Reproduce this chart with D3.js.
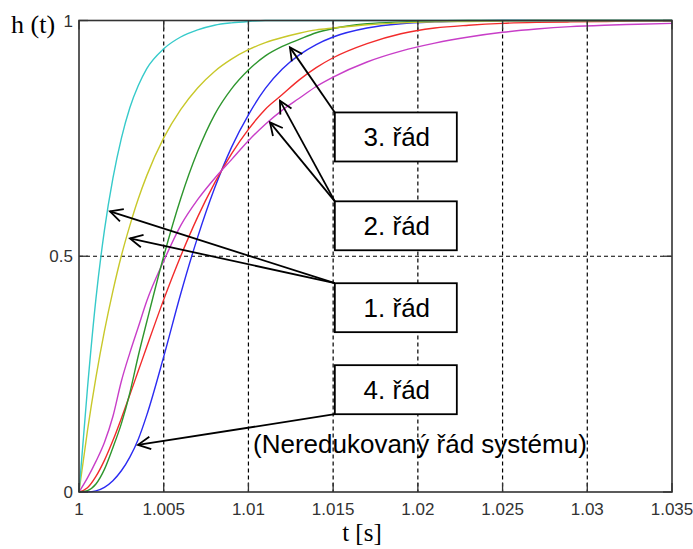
<!DOCTYPE html>
<html>
<head>
<meta charset="utf-8">
<script src="https://cdn.jsdelivr.net/npm/d3@7"></script>
<style>
  body { margin: 0; background: #fff; }
  svg { display: block; }
  .tick-label { font-family: "Liberation Sans", Arial, sans-serif; font-size: 17px; fill: #333; }
  .box-label { font-family: "Liberation Sans", Arial, sans-serif; font-size: 26px; fill: #000; }
</style>
</head>
<body>
<svg id="chart" width="693" height="549"></svg>
<script>
// sample times [s] and step responses
const time = [1, 1.0005, 1.001, 1.0015, 1.002, 1.0025, 1.003, 1.0035, 1.004, 1.005,
  1.006, 1.007, 1.008, 1.009, 1.010, 1.011, 1.012, 1.013, 1.014, 1.015,
  1.017, 1.019, 1.021, 1.023, 1.025, 1.027, 1.029, 1.031, 1.033, 1.035];

const cyanOrder1 = [0, 0.22, 0.41, 0.555, 0.665, 0.75, 0.815, 0.862, 0.898, 0.94,
  0.965, 0.98, 0.99, 0.995, 0.998, 1, 1, 1, 1, 1, 1, 1, 1, 1, 1, 1, 1, 1, 1, 1];
const yellowOrder1 = [0, 0.13, 0.243, 0.341, 0.426, 0.501, 0.565, 0.622, 0.671, 0.751,
  0.811, 0.857, 0.892, 0.918, 0.938, 0.953, 0.964, 0.973, 0.98, 0.984,
  0.991, 0.995, 0.997, 0.998, 0.999, 1, 1, 1, 1, 1];
const greenOrder3 = [0, 0.003, 0.017, 0.048, 0.094, 0.145, 0.21, 0.289, 0.361, 0.5,
  0.622, 0.722, 0.8, 0.855, 0.895, 0.925, 0.945, 0.96, 0.974, 0.983,
  0.993, 0.997, 0.999, 1, 1, 1, 1, 1, 1, 1];
const blueOrder4 = [0, 0.0002, 0.0025, 0.01, 0.024, 0.045, 0.074, 0.112, 0.163, 0.287,
  0.42, 0.54, 0.644, 0.731, 0.80, 0.856, 0.897, 0.927, 0.949, 0.965,
  0.984, 0.993, 0.997, 0.999, 1, 1, 1, 1, 1, 1];
const redOrder2 = [0, 0.009, 0.033, 0.067, 0.109, 0.156, 0.206, 0.257, 0.308, 0.408,
  0.50, 0.583, 0.655, 0.717, 0.769, 0.812, 0.843, 0.874, 0.9, 0.921,
  0.951, 0.972, 0.984, 0.99, 0.994, 0.996, 0.997, 0.998, 0.999, 0.999];
const magentaOrder2 = [0, 0.03, 0.065, 0.105, 0.16, 0.235, 0.295, 0.35, 0.405, 0.49,
  0.565, 0.62, 0.665, 0.705, 0.745, 0.78, 0.81, 0.835, 0.86, 0.88,
  0.912, 0.935, 0.952, 0.965, 0.975, 0.982, 0.987, 0.99, 0.992, 0.994];

const xTicks = [1, 1.005, 1.01, 1.015, 1.02, 1.025, 1.03, 1.035];
const xTickLabels = ["1", "1.005", "1.01", "1.015", "1.02", "1.025", "1.03", "1.035"];
const yTicks = [0, 0.5, 1];
const yTickLabels = ["0", "0.5", "1"];

// label boxes (data coords) and the points their arrows hit
const boxLabels = ["3. řád", "2. řád", "1. řád", "4. řád"];
const boxTop = [0.805, 0.6165, 0.4428, 0.269];
const boxBottom = [0.701, 0.5127, 0.339, 0.165];
const boxT0 = 1.0151, boxT1 = 1.0223;
const arrowFrom = [0, 1, 1, 2, 2, 3];           // box index (top-left corner, 4th: bottom-left)
const arrowTipT = [1.01245, 1.01186, 1.01127, 1.00183, 1.00301, 1.00348];
const arrowTipH = [0.943, 0.830, 0.784, 0.595, 0.538, 0.100];

const series = [
  { values: blueOrder4, color: "#2b2bf2" },
  { values: redOrder2, color: "#f22b2b" },
  { values: magentaOrder2, color: "#c83ec8" },
  { values: greenOrder3, color: "#2e962e" },
  { values: yellowOrder1, color: "#c8c82a" },
  { values: cyanOrder1, color: "#36caca" }
];

const svg = d3.select("#chart");
const plotLeft = 79, plotRight = 672, plotTop = 20.5, plotBottom = 492;

const x = d3.scaleLinear().domain([1, 1.035]).range([plotLeft, plotRight]);
const y = d3.scaleLinear().domain([0, 1]).range([plotBottom, plotTop]);

// grid
const grid = svg.append("g").attr("stroke", "#000").attr("stroke-width", 1.2)
  .attr("stroke-dasharray", "4,3");
grid.selectAll(".gx").data(xTicks.slice(1, -1)).enter().append("line")
  .attr("x1", d => x(d)).attr("x2", d => x(d))
  .attr("y1", plotTop).attr("y2", plotBottom);
grid.selectAll(".gy").data([0.5]).enter().append("line")
  .attr("x1", plotLeft).attr("x2", plotRight)
  .attr("y1", d => y(d)).attr("y2", d => y(d));

// curves
const line = d3.line()
  .x((d, i) => x(time[i]))
  .y(d => y(d))
  .curve(d3.curveMonotoneX);

svg.append("g").selectAll("path").data(series).enter().append("path")
  .attr("d", d => line(d.values))
  .attr("fill", "none")
  .attr("stroke", d => d.color)
  .attr("stroke-width", 1.4);

// frame and inner ticks
svg.append("rect")
  .attr("x", plotLeft).attr("y", plotTop)
  .attr("width", plotRight - plotLeft).attr("height", plotBottom - plotTop)
  .attr("fill", "none").attr("stroke", "#333").attr("stroke-width", 1.6);

const ticks = svg.append("g").attr("stroke", "#333").attr("stroke-width", 1.3);
xTicks.forEach(t => {
  ticks.append("line").attr("x1", x(t)).attr("x2", x(t)).attr("y1", plotBottom).attr("y2", plotBottom - 9);
  ticks.append("line").attr("x1", x(t)).attr("x2", x(t)).attr("y1", plotTop).attr("y2", plotTop + 9);
});
yTicks.forEach(v => {
  ticks.append("line").attr("x1", plotLeft).attr("x2", plotLeft + 9).attr("y1", y(v)).attr("y2", y(v));
  ticks.append("line").attr("x1", plotRight).attr("x2", plotRight - 9).attr("y1", y(v)).attr("y2", y(v));
});

// tick labels
svg.selectAll(".xl").data(xTicks).enter().append("text")
  .attr("class", "tick-label")
  .attr("x", d => x(d)).attr("y", plotBottom + 23)
  .attr("text-anchor", "middle")
  .text((d, i) => xTickLabels[i]);

svg.selectAll(".yl").data(yTicks).enter().append("text")
  .attr("class", "tick-label")
  .attr("x", plotLeft - 6).attr("y", d => y(d) + 6)
  .attr("text-anchor", "end")
  .text((d, i) => yTickLabels[i]);

// axis titles
svg.append("text")
  .attr("x", 11).attr("y", 33)
  .attr("font-family", "Liberation Serif, Times New Roman, serif")
  .attr("font-size", 26)
  .text("h (t)");

svg.append("text")
  .attr("x", x(1.0167)).attr("y", 541)
  .attr("text-anchor", "middle")
  .attr("font-family", "Liberation Serif, Times New Roman, serif")
  .attr("font-size", 25)
  .text("t [s]");

// arrows
function arrow(g, x1, y1, x2, y2) {
  g.append("line").attr("x1", x1).attr("y1", y1).attr("x2", x2).attr("y2", y2);
  const a = Math.atan2(y2 - y1, x2 - x1), len = 14, spread = 0.47;
  const p1 = [x2 - len * Math.cos(a - spread), y2 - len * Math.sin(a - spread)];
  const p2 = [x2 - len * Math.cos(a + spread), y2 - len * Math.sin(a + spread)];
  g.append("path").attr("d", `M${p1[0]},${p1[1]}L${x2},${y2}L${p2[0]},${p2[1]}`)
    .attr("fill", "none");
}

const notes = svg.append("g").attr("stroke", "#000").attr("stroke-width", 1.8);
arrowFrom.forEach((b, i) => {
  const sy = b === 3 ? y(boxBottom[b]) : y(boxTop[b]);
  arrow(notes, x(boxT0), sy, x(arrowTipT[i]), y(arrowTipH[i]));
});

// boxes
boxLabels.forEach((label, i) => {
  svg.append("rect")
    .attr("x", x(boxT0)).attr("y", y(boxTop[i]))
    .attr("width", x(boxT1) - x(boxT0))
    .attr("height", y(boxBottom[i]) - y(boxTop[i]))
    .attr("fill", "#fff").attr("stroke", "#000").attr("stroke-width", 1.8);
  svg.append("text")
    .attr("class", "box-label")
    .attr("x", (x(boxT0) + x(boxT1)) / 2 + 1)
    .attr("y", (y(boxTop[i]) + y(boxBottom[i])) / 2 + 9)
    .attr("text-anchor", "middle")
    .text(label);
});

svg.append("text")
  .attr("class", "box-label")
  .attr("x", x(1.01027)).attr("y", y(0.083))
  .attr("font-size", 27)
  .text("(Neredukovaný řád systému)");
</script>
</body>
</html>
